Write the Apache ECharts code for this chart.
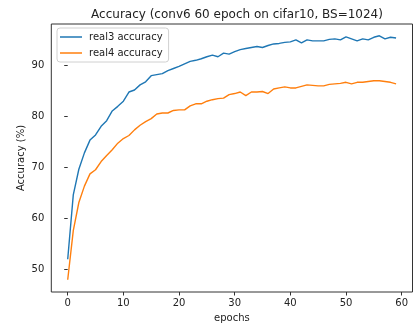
<!DOCTYPE html>
<html>
<head>
<meta charset="utf-8">
<script src="https://cdn.jsdelivr.net/npm/echarts@6/dist/echarts.min.js"></script>
<style>
  html, body { margin: 0; padding: 0; background: #fff; }
  #chart { width: 414px; height: 328px; }
</style>
</head>
<body>
<div id="chart"></div>
<script>
const epochs = [
  0, 1, 2, 3, 4, 5, 6, 7, 8, 9, 10, 11, 12, 13, 14, 15, 16, 17, 18, 19,
  20, 21, 22, 23, 24, 25, 26, 27, 28, 29, 30, 31, 32, 33, 34, 35, 36, 37, 38, 39,
  40, 41, 42, 43, 44, 45, 46, 47, 48, 49, 50, 51, 52, 53, 54, 55, 56, 57, 58, 59,
];

const real3 = [
  52.0, 64.6, 69.6, 72.8, 75.3, 76.3, 78.0, 79.1, 81.0, 81.9,
  82.9, 84.7, 85.1, 86.1, 86.7, 87.9, 88.1, 88.3, 88.9, 89.3,
  89.7, 90.2, 90.7, 90.9, 91.2, 91.6, 91.9, 91.6, 92.3, 92.1,
  92.6, 93.0, 93.2, 93.4, 93.6, 93.4, 93.8, 94.1, 94.2, 94.4,
  94.5, 94.9, 94.3, 94.9, 94.7, 94.7, 94.7, 95.0, 95.1, 94.9,
  95.5, 95.1, 94.7, 95.1, 94.9, 95.4, 95.7, 95.1, 95.4, 95.25,
];

const real4 = [
  48.0, 57.6, 63.1, 66.3, 68.7, 69.5, 71.1, 72.3, 73.4, 74.7,
  75.6, 76.2, 77.3, 78.2, 78.9, 79.5, 80.4, 80.6, 80.6, 81.1,
  81.2, 81.2, 82.0, 82.4, 82.4, 82.9, 83.2, 83.4, 83.5, 84.2,
  84.4, 84.7, 84.0, 84.7, 84.7, 84.8, 84.4, 85.3, 85.5, 85.7,
  85.5, 85.5, 85.8, 86.1, 86.0, 85.9, 85.9, 86.2, 86.3, 86.4,
  86.6, 86.3, 86.6, 86.6, 86.75, 86.9, 86.9, 86.75, 86.6, 86.3,
];

const xTicks = [0, 10, 20, 30, 40, 50, 60];
const yTicks = [50, 60, 70, 80, 90];

const font = "DejaVu Sans";
const ink = "#222";

const chart = echarts.init(document.getElementById("chart"), null, { renderer: "canvas" });

chart.setOption({
  animation: false,
  title: {
    text: "Accuracy (conv6 60 epoch on cifar10, BS=1024)",
    left: 232,
    textAlign: "center",
    top: 4,
    textStyle: { fontFamily: font, fontSize: 12, fontWeight: "normal", color: ink },
  },
  legend: {
    orient: "vertical",
    left: 57,
    top: 28,
    padding: [3, 6, 3, 3],
    itemGap: 4,
    itemWidth: 22,
    itemHeight: 1.5,
    icon: "rect",
    backgroundColor: "rgba(255,255,255,0.8)",
    borderColor: "#d0d0d0",
    borderWidth: 1,
    borderRadius: 3,
    textStyle: { fontFamily: font, fontSize: 10, color: ink, lineHeight: 12, padding: [0, 0, 0, 2] },
    data: ["real3 accuracy", "real4 accuracy"],
  },
  grid: {
    left: 51.3,
    right: 1.5,
    top: 24,
    bottom: 34.7,
    show: true,
    borderColor: "#333",
    borderWidth: 1,
    backgroundColor: "transparent",
  },
  xAxis: {
    type: "value",
    min: -2.95,
    max: 61.95,
    name: "epochs",
    nameLocation: "middle",
    nameGap: 21,
    nameMoveOverlap: false,
    nameTextStyle: { fontFamily: font, fontSize: 10, color: ink },
    axisLine: { show: false },
    splitLine: { show: false },
    axisTick: { show: true, length: 3.5, lineStyle: { color: "#333" }, customValues: xTicks },
    axisLabel: { fontFamily: font, fontSize: 10, color: ink, margin: 6, customValues: xTicks },
  },
  yAxis: {
    type: "value",
    min: 45.6,
    max: 98.0,
    name: "Accuracy (%)",
    nameLocation: "middle",
    nameGap: 25,
    nameMoveOverlap: false,
    nameTextStyle: { fontFamily: font, fontSize: 10, color: ink },
    axisLine: { show: false },
    splitLine: { show: false },
    axisTick: { show: true, length: 3.5, lineStyle: { color: "#333" }, customValues: yTicks },
    axisLabel: { fontFamily: font, fontSize: 10, color: ink, margin: 7, customValues: yTicks },
  },
  series: [
    {
      name: "real3 accuracy",
      type: "line",
      showSymbol: false,
      color: "#1f77b4",
      lineStyle: { width: 1.4 },
      data: epochs.map((e, i) => [e, real3[i]]),
    },
    {
      name: "real4 accuracy",
      type: "line",
      showSymbol: false,
      color: "#ff7f0e",
      lineStyle: { width: 1.4 },
      data: epochs.map((e, i) => [e, real4[i]]),
    },
  ],
});
</script>
</body>
</html>
